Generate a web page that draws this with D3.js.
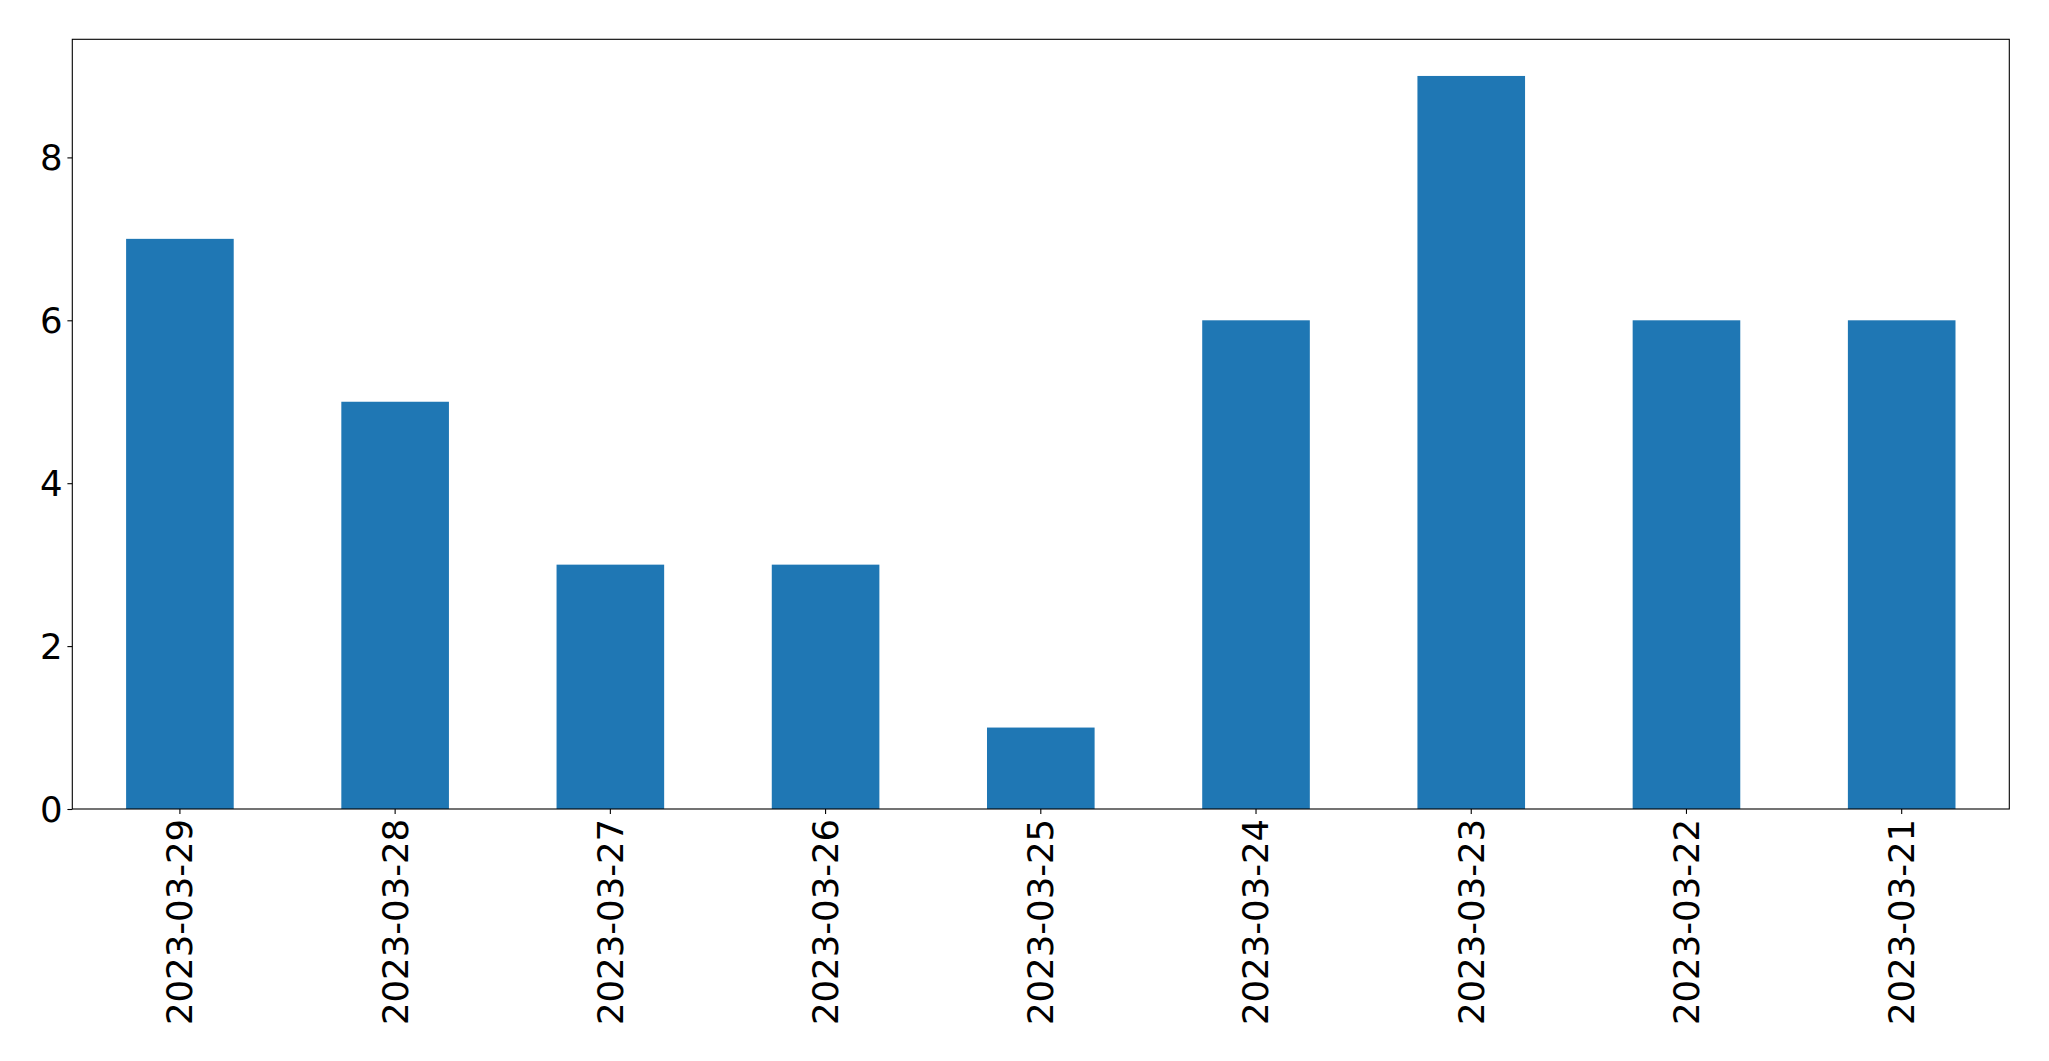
<!DOCTYPE html>
<html><head><meta charset="utf-8">
<script src="https://cdn.jsdelivr.net/npm/d3@7"></script>
<style>body{margin:0;background:#fff}svg{display:block}</style>
</head><body>
<script>
const categories = ["2023-03-29","2023-03-28","2023-03-27","2023-03-26","2023-03-25","2023-03-24","2023-03-23","2023-03-22","2023-03-21"];
const values = [7,5,3,3,1,6,9,6,6];
const yTicks = [0,2,4,6,8];

const W = 2049, H = 1061;
const m = {left:72.3, right:2049-2009.3, top:39.3, bottom:1061-809};
const svg = d3.select("body").append("svg").attr("width",W).attr("height",H);
const x = d3.scaleBand().domain(categories).range([m.left, W-m.right]).paddingInner(0.5).paddingOuter(0.25);
const y = d3.scaleLinear().domain([0, d3.max(values)*1.05]).range([H-m.bottom, m.top]);
const font = "DejaVu Sans";
const fs = 35.5;

svg.append("g").selectAll("rect").data(values).join("rect")
  .attr("x",(d,i)=>x(categories[i])).attr("width",x.bandwidth())
  .attr("y",d=>y(d)).attr("height",d=>y(0)-y(d)).attr("fill","#1f77b4");

const xa = svg.append("g").attr("transform",`translate(0,${H-m.bottom})`)
  .call(d3.axisBottom(x).tickSize(4.9).tickPadding(4.9).tickSizeOuter(0));
xa.select(".domain").remove();
xa.selectAll("line").attr("stroke","#000").attr("stroke-width",1.1);
xa.selectAll("text").attr("font-family",font).attr("font-size",fs).attr("fill","#000")
  .attr("transform","rotate(-90)").attr("text-anchor","end").attr("dy","0.35em")
  .attr("x",-9.8).attr("y",0);

const ya = svg.append("g").attr("transform",`translate(${m.left},0)`)
  .call(d3.axisLeft(y).tickValues(yTicks).tickSize(4.9).tickPadding(4.9).tickFormat(d3.format("d")));
ya.select(".domain").remove();
ya.selectAll("line").attr("stroke","#000").attr("stroke-width",1.1);
ya.selectAll("text").attr("font-family",font).attr("font-size",fs).attr("fill","#000").attr("dy","0.35em");

svg.append("rect").attr("x",m.left).attr("y",m.top).attr("width",W-m.right-m.left).attr("height",H-m.bottom-m.top)
  .attr("fill","none").attr("stroke","#000").attr("stroke-width",1.1);
</script>
</body></html>
